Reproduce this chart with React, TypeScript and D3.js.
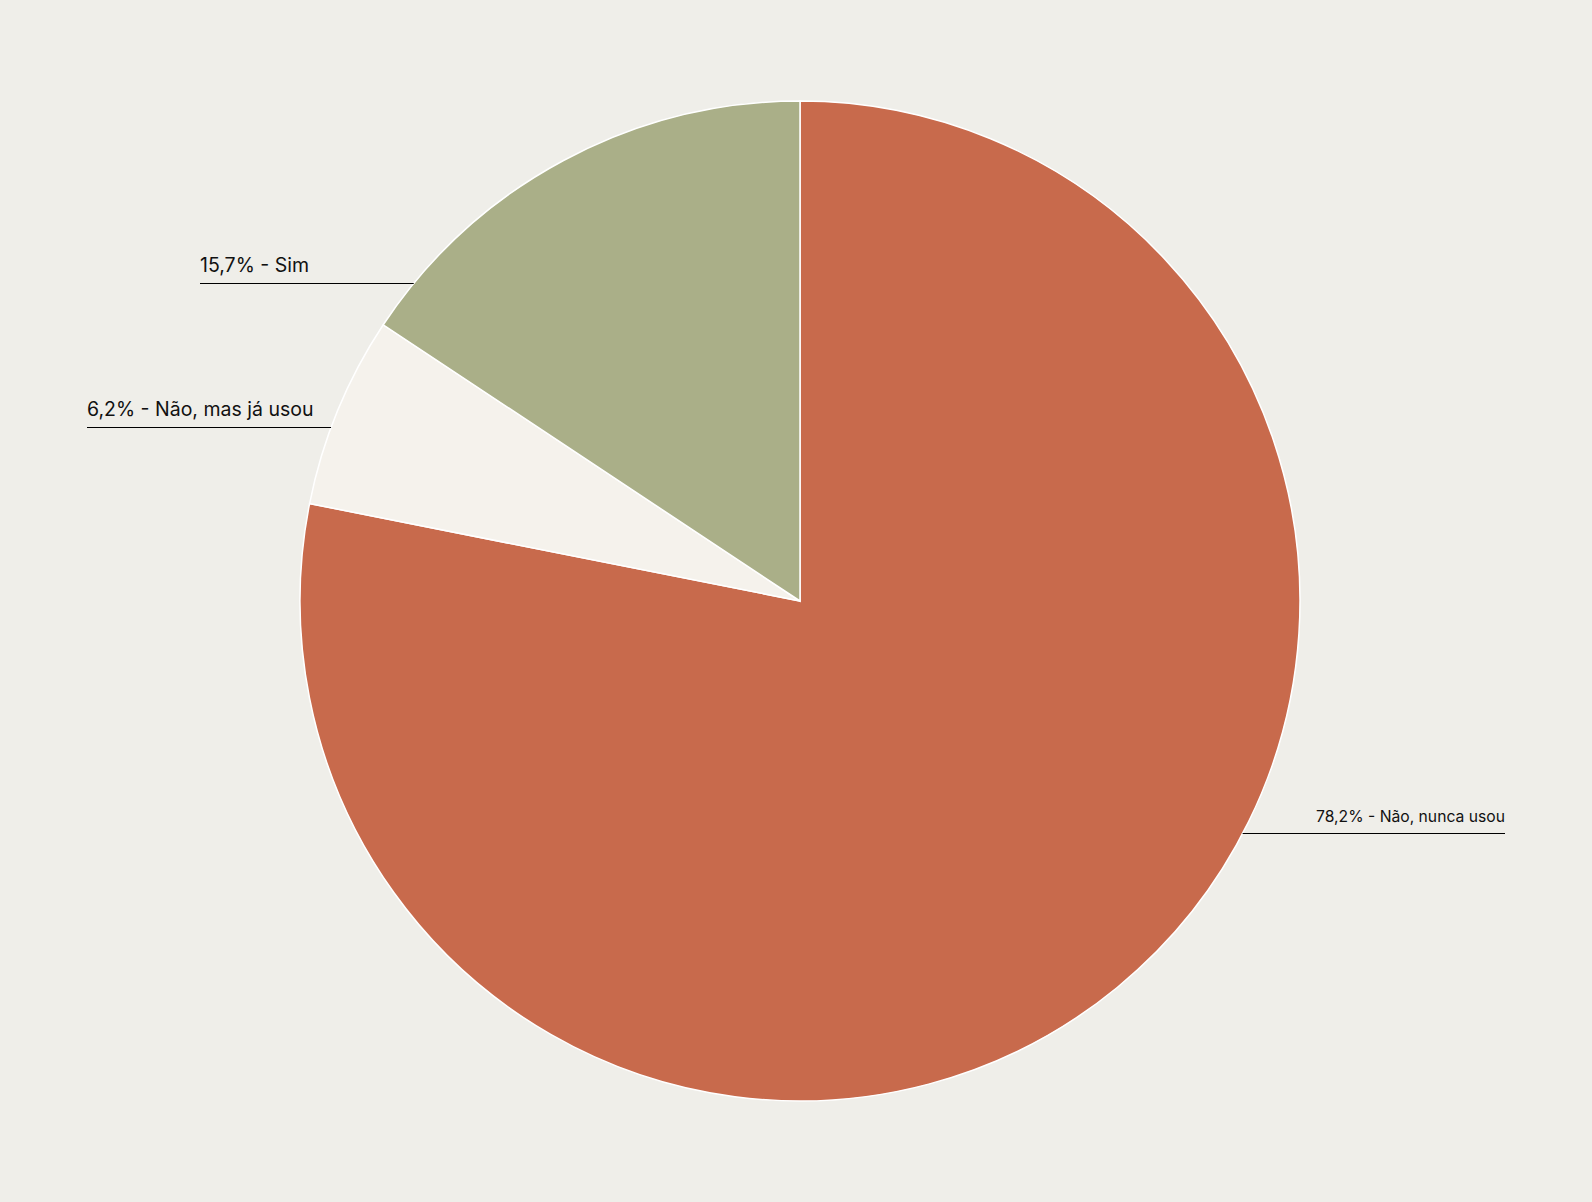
import React from "react";
import * as d3 from "d3";

const categories = ["Não, nunca usou", "Não, mas já usou", "Sim"];
const values = [78.2, 6.2, 15.7];
const colors = ["#C86A4C", "#F5F2EC", "#AAAF88"];

const W = 1592;
const H = 1202;
const cx = 800;
const cy = 601;
const R = 500;

// label layout: y of underline, side, text anchor x, font size
const labelLayout = [
  { y: 833.5, side: "right", x: 1505, fs: 15.7 },
  { y: 427.5, side: "left", x: 87, fs: 19.5 },
  { y: 283.5, side: "left", x: 200, fs: 19.5 },
];

export default function App() {
  const pie = d3
    .pie<number>()
    .sort(null)
    .value((d) => d)
    .startAngle(0)
    .endAngle(2 * Math.PI);
  const arcs = pie(values);
  const arc = d3.arc<d3.PieArcDatum<number>>().innerRadius(0).outerRadius(R);
  const fmt = (v: number) => v.toFixed(1).replace(".", ",") + "%";

  return (
    <svg
      width={W}
      height={H}
      style={{ position: "absolute", left: 0, top: 0, background: "#EFEEE9" }}
    >
      <rect x={0} y={0} width={W} height={H} fill="#EFEEE9" />
      <g transform={`translate(${cx},${cy})`}>
        {arcs.map((a, i) => (
          <path
            key={i}
            d={arc(a) || ""}
            fill={colors[i]}
            stroke="#ffffff"
            strokeWidth={1.5}
          />
        ))}
      </g>
      {arcs.map((a, i) => {
        const L = labelLayout[i];
        const dy = L.y - cy;
        const dx = Math.sqrt(Math.max(0, R * R - dy * dy));
        const edgeX = L.side === "left" ? cx - dx : cx + dx;
        const label = `${fmt(values[i])} - ${categories[i]}`;
        return (
          <g key={"l" + i}>
            <line
              x1={L.side === "left" ? L.x : edgeX}
              x2={L.side === "left" ? edgeX : L.x}
              y1={L.y}
              y2={L.y}
              stroke="#000"
              strokeWidth={1}
            />
            <text
              x={L.x}
              y={L.y - 11.5}
              fontFamily="Inter"
              fontSize={L.fs}
              fill="#111"
              textAnchor={L.side === "left" ? "start" : "end"}
            >
              {label}
            </text>
          </g>
        );
      })}
    </svg>
  );
}
